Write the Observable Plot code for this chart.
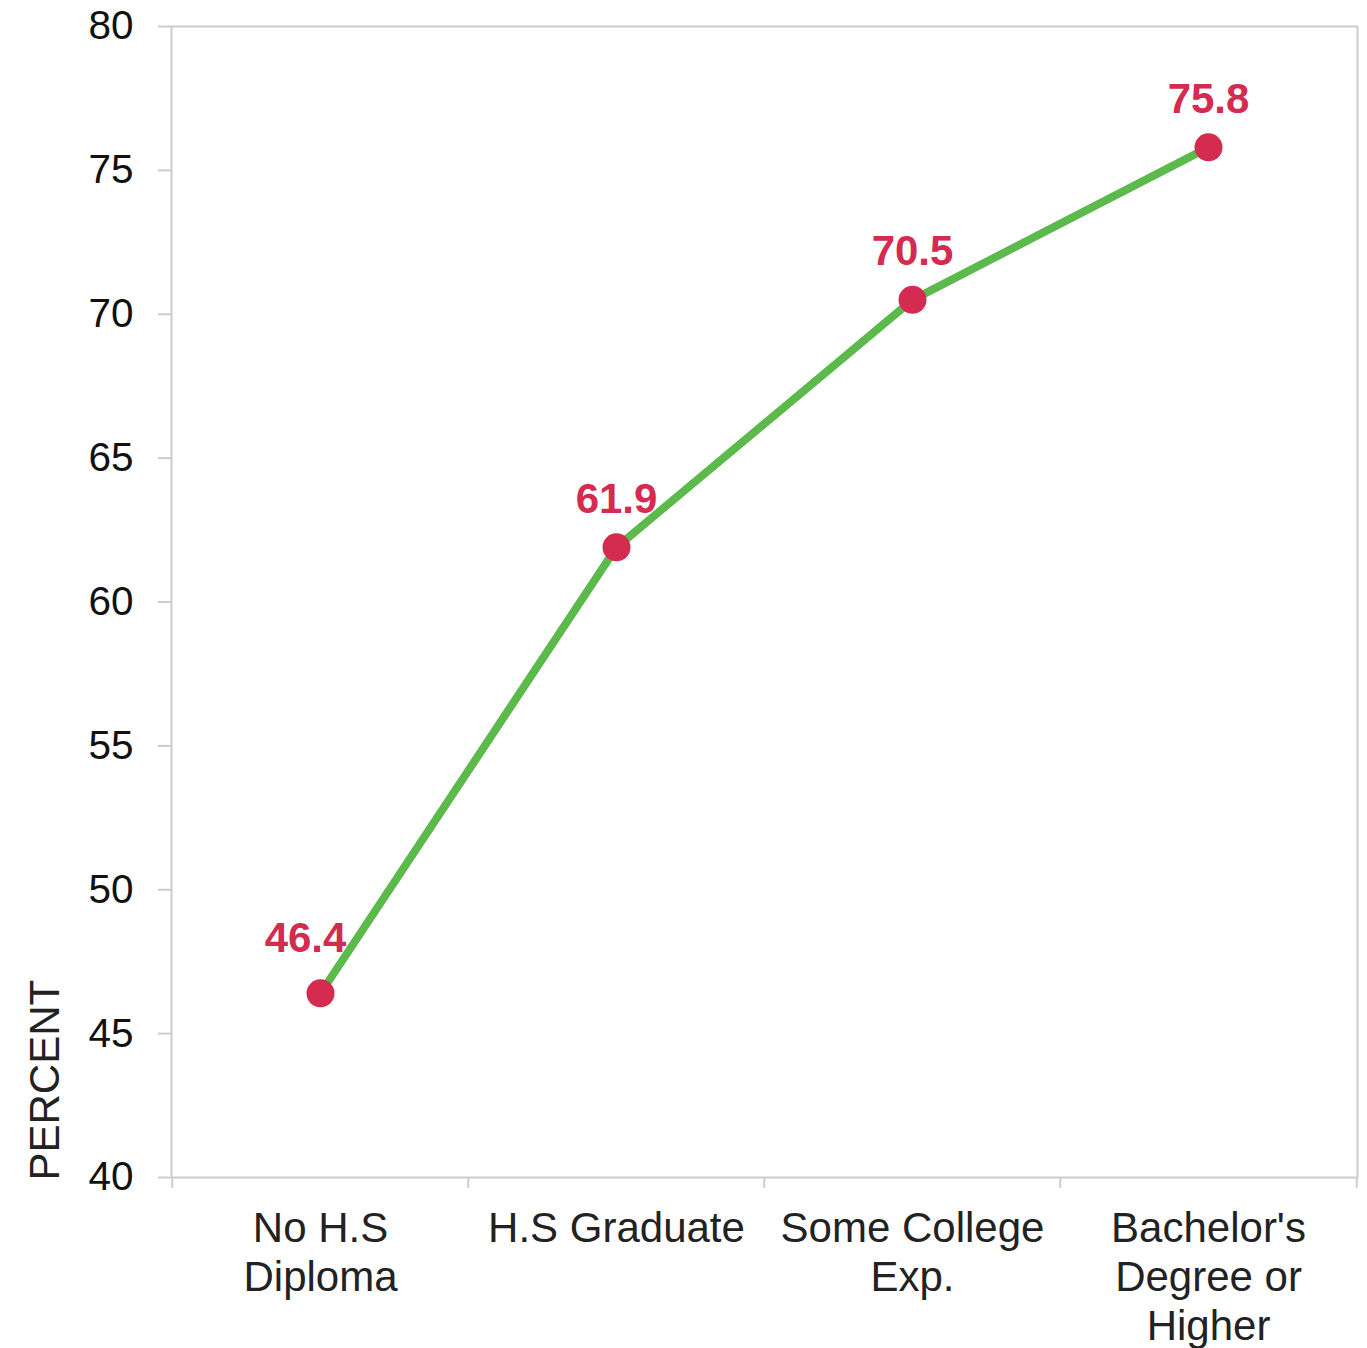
<!DOCTYPE html>
<html>
<head>
<meta charset="utf-8">
<script src="https://cdn.jsdelivr.net/npm/d3@7"></script>
<script src="https://cdn.jsdelivr.net/npm/@observablehq/plot@0.6"></script>
<style>
  html, body { margin: 0; padding: 0; background: #fff; }
  #chart svg { display: block; font-family: "Liberation Sans", Arial, sans-serif; }
</style>
</head>
<body>
<div id="chart"></div>
<script>
const categories = ["No H.S Diploma", "H.S Graduate", "Some College Exp.", "Bachelor's Degree or Higher"];
const categoryLabels = ["No H.S\nDiploma", "H.S Graduate", "Some College\nExp.", "Bachelor's\nDegree or\nHigher"];
const values = [46.4, 61.9, 70.5, 75.8];
const yTicks = [40, 45, 50, 55, 60, 65, 70, 75, 80];
const yLabel = "PERCENT";

const data = categories.map((c, i) => ({category: c, label: categoryLabels[i], value: values[i]}));

const W = 1367, H = 1348, ML = 171, MR = 10, MT = 26, MB = 171;
const bw = (W - ML - MR) / categories.length;
const gray = "#cccccc";
const red = "#d52b50";
const green = "#5cb94c";
const font = "Liberation Sans, Arial, sans-serif";

const chart = Plot.plot({
  width: W,
  height: H,
  marginLeft: ML,
  marginRight: MR,
  marginTop: MT,
  marginBottom: MB,
  style: {fontFamily: font, background: "#fff"},
  x: {type: "band", domain: categories, padding: 0, axis: null},
  y: {domain: [40, 80], axis: null},
  marks: [
    Plot.frame({stroke: gray, strokeWidth: 2}),
    Plot.axisY({ticks: yTicks, tickSize: 13, tickPadding: 25, stroke: gray, strokeWidth: 2, fill: "#111", fontSize: 40.5, label: null, tickFormat: d => String(d)}),
    // category boundary ticks
    Plot.ruleX(categories, {x: d => d, dx: -bw / 2, y1: 40, y2: 40 - 11 / ((H - MT - MB) / 40), stroke: gray, strokeWidth: 2}),
    Plot.ruleX(categories.slice(-1), {x: d => d, dx: bw / 2, y1: 40, y2: 40 - 11 / ((H - MT - MB) / 40), stroke: gray, strokeWidth: 2}),
    // category labels
    Plot.text(data, {x: "category", text: "label", frameAnchor: "bottom", lineAnchor: "top", dy: 30, lineHeight: 1.16, fontSize: 42, fill: "#222"}),
    // y label
    Plot.text([yLabel], {text: d => d, frameAnchor: "bottom-left", rotate: -90, textAnchor: "start", lineAnchor: "middle", dx: -126, dy: 3, fontSize: 42, fill: "#222"}),
    Plot.line(data, {x: "category", y: "value", stroke: green, strokeWidth: 8}),
    Plot.dot(data, {x: "category", y: "value", r: 14, fill: red, stroke: null}),
    Plot.text(data.slice(1), {x: "category", y: "value", text: d => d.value.toFixed(1), dy: -48, fontSize: 42, fontWeight: "bold", fill: red}),
    Plot.text(data.slice(0, 1), {x: "category", y: "value", text: d => d.value.toFixed(1), dx: -15, dy: -55, fontSize: 42, fontWeight: "bold", fill: red})
  ]
});
document.getElementById("chart").appendChild(chart);
</script>
</body>
</html>
